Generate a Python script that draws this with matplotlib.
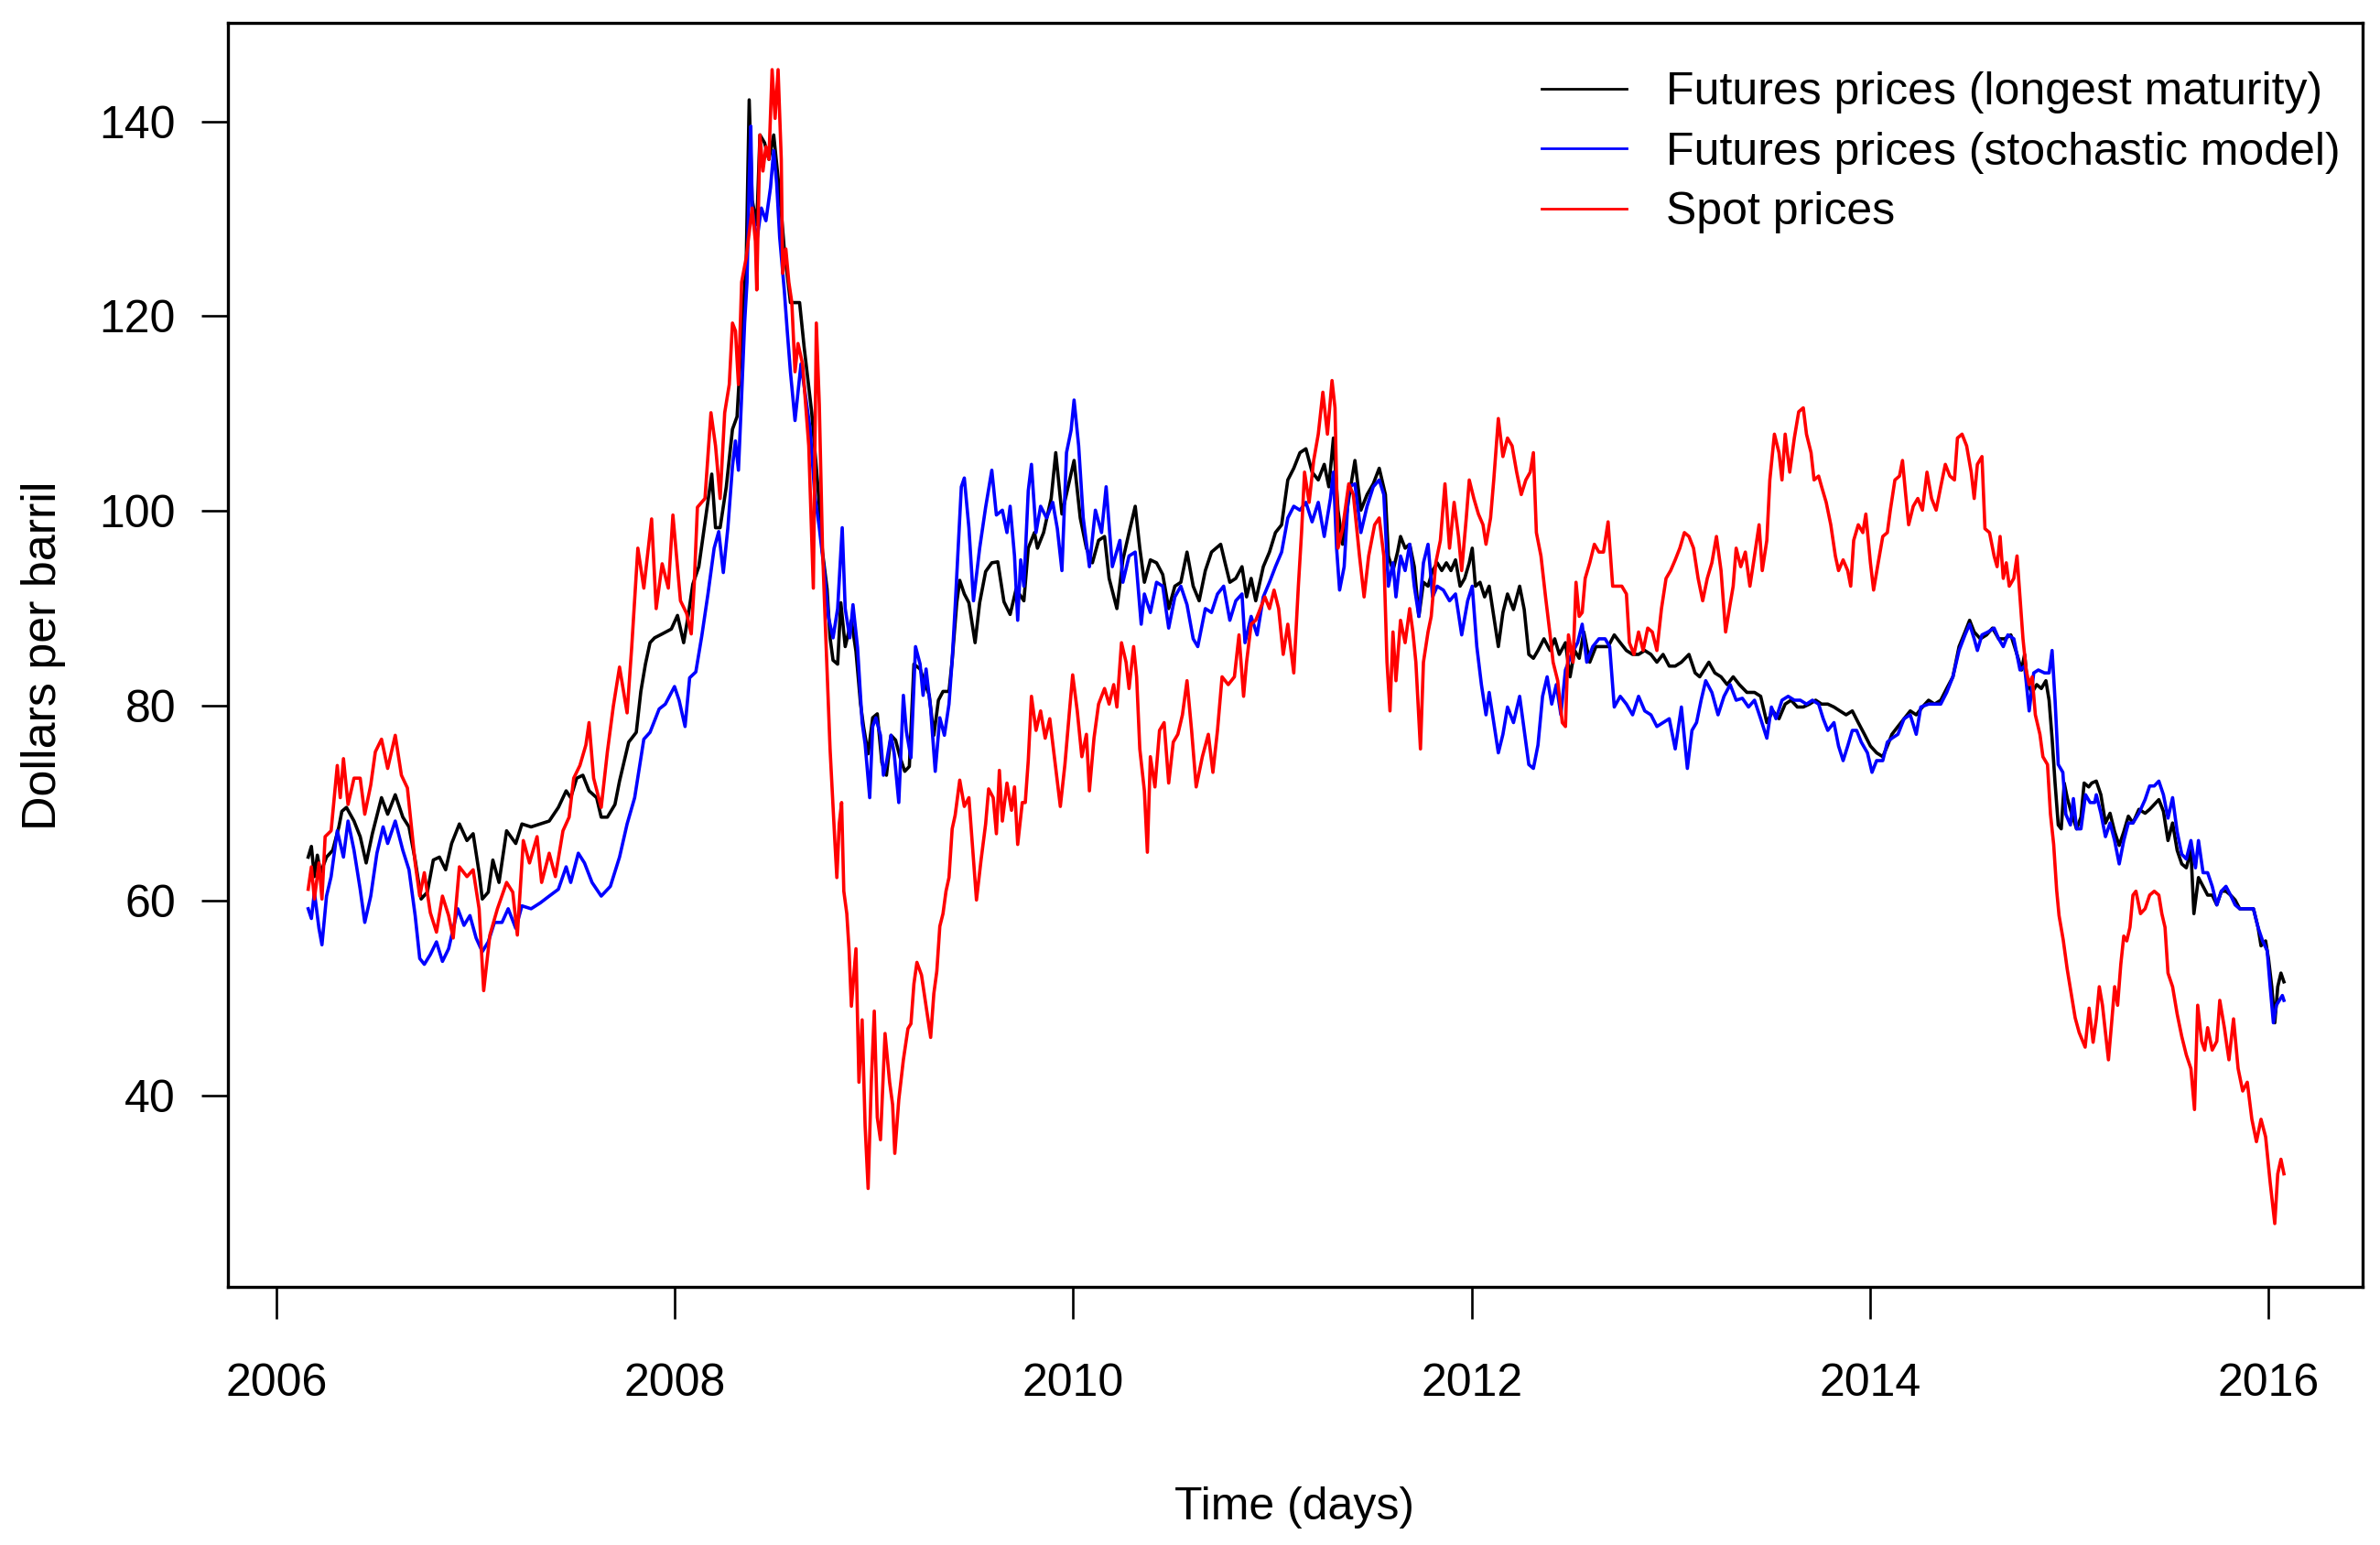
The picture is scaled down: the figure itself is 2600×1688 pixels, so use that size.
import matplotlib
matplotlib.use("Agg")
import matplotlib.pyplot as plt
from matplotlib import font_manager

# ---------------- data ----------------
futures_longest = [
(2006.159,64.5),(2006.175,65.6),(2006.190,62.5),(2006.205,64.7),(2006.221,62.9),(2006.251,64.5),(2006.282,65.2),
(2006.313,67.6),(2006.328,69.2),(2006.351,69.6),(2006.389,68.2),(2006.420,66.6),(2006.450,63.9),(2006.481,66.9),
(2006.527,70.6),(2006.558,68.9),(2006.596,70.9),(2006.634,68.6),(2006.665,67.6),(2006.696,64.2),(2006.726,60.2),
(2006.757,60.9),(2006.787,64.2),(2006.818,64.5),(2006.849,63.2),(2006.879,65.9),(2006.918,67.9),(2006.956,66.2),
(2006.987,66.9),(2007.017,62.9),(2007.033,60.2),(2007.063,60.9),(2007.086,64.2),(2007.117,61.9),(2007.155,67.2),
(2007.201,65.9),(2007.232,67.9),(2007.278,67.6),(2007.324,67.9),(2007.369,68.2),(2007.415,69.6),(2007.454,71.3),
(2007.477,70.6),(2007.507,72.6),(2007.538,72.9),(2007.569,71.3),(2007.607,70.6),(2007.630,68.6),(2007.661,68.6),
(2007.699,69.9),(2007.722,72.3),(2007.768,76.3),(2007.806,77.3),(2007.829,81.5),(2007.852,84.3),(2007.875,86.5),
(2007.898,87.0),(2007.936,87.4),(2007.982,87.9),(2008.013,89.3),(2008.044,86.5),(2008.067,89.3),(2008.090,92.5),
(2008.120,94.3),(2008.151,98.8),(2008.185,103.8),(2008.204,98.3),(2008.227,98.3),(2008.258,102.5),(2008.289,108.4),
(2008.312,109.7),(2008.327,115.1),(2008.342,120.6),(2008.358,125.6),(2008.365,133.2),(2008.373,142.2),(2008.388,131.9),
(2008.411,129.4),(2008.427,138.6),(2008.450,137.8),(2008.472,136.1),(2008.496,138.6),(2008.519,134.0),(2008.534,130.7),
(2008.549,126.9),(2008.580,121.4),(2008.626,121.4),(2008.649,116.8),(2008.687,110.1),(2008.718,102.5),(2008.741,95.8),
(2008.764,92.0),(2008.779,87.0),(2008.794,84.7),(2008.817,84.3),(2008.833,90.6),(2008.855,86.1),(2008.886,88.8),
(2008.909,85.6),(2008.932,80.2),(2008.947,77.9),(2008.970,75.1),(2008.993,78.8),(2009.016,79.2),(2009.039,74.2),
(2009.062,72.9),(2009.085,77.0),(2009.108,76.5),(2009.131,74.7),(2009.154,73.3),(2009.177,73.8),(2009.200,84.3),
(2009.231,83.8),(2009.254,82.4),(2009.277,81.1),(2009.300,77.0),(2009.323,80.6),(2009.346,81.5),(2009.376,81.5),
(2009.392,84.7),(2009.415,90.6),(2009.430,92.9),(2009.453,91.5),(2009.476,90.6),(2009.507,86.5),(2009.530,90.6),
(2009.560,93.8),(2009.591,94.7),(2009.621,94.8),(2009.652,90.7),(2009.683,89.4),(2009.713,92.0),(2009.752,90.8),
(2009.774,96.2),(2009.805,97.8),(2009.820,96.2),(2009.851,97.8),(2009.889,101.3),(2009.912,106.0),(2009.943,99.7),
(2009.974,102.5),(2010.004,105.2),(2010.035,99.3),(2010.066,96.2),(2010.096,94.7),(2010.127,97.0),(2010.157,97.4),
(2010.180,93.1),(2010.219,90.0),(2010.249,95.0),(2010.280,97.8),(2010.311,100.5),(2010.334,96.2),(2010.357,92.7),
(2010.387,95.0),(2010.418,94.7),(2010.449,93.5),(2010.479,90.0),(2010.510,92.3),(2010.540,92.7),(2010.571,95.8),
(2010.602,92.3),(2010.632,90.8),(2010.663,93.9),(2010.694,95.8),(2010.740,96.6),(2010.762,94.7),(2010.786,92.7),
(2010.816,93.1),(2010.847,94.3),(2010.870,91.2),(2010.893,93.1),(2010.916,90.8),(2010.954,94.3),(2010.985,95.8),
(2011.015,97.8),(2011.046,98.6),(2011.077,103.2),(2011.107,104.4),(2011.138,106.0),(2011.168,106.4),(2011.199,104.0),
(2011.230,103.2),(2011.260,104.8),(2011.283,102.5),(2011.306,107.5),(2011.329,100.1),(2011.352,96.6),(2011.383,101.3),
(2011.414,105.2),(2011.444,100.1),(2011.475,101.7),(2011.506,102.8),(2011.536,104.4),(2011.567,101.7),(2011.582,95.4),
(2011.605,93.9),(2011.628,95.8),(2011.643,97.4),(2011.666,96.2),(2011.689,96.6),(2011.712,94.3),(2011.735,89.2),
(2011.758,92.7),(2011.781,92.3),(2011.804,93.9),(2011.827,94.7),(2011.850,93.9),(2011.873,94.7),(2011.896,93.9),
(2011.919,95.0),(2011.942,92.3),(2011.965,93.1),(2011.988,94.7),(2012.003,96.2),(2012.019,92.3),(2012.042,92.7),
(2012.065,91.2),(2012.088,92.3),(2012.111,89.2),(2012.134,86.1),(2012.157,89.6),(2012.180,91.5),(2012.210,89.9),
(2012.241,92.3),(2012.264,89.9),(2012.287,85.3),(2012.310,84.9),(2012.333,85.7),(2012.363,86.9),(2012.394,85.7),
(2012.417,86.9),(2012.440,85.3),(2012.471,86.5),(2012.494,83.0),(2012.517,85.7),(2012.540,84.9),(2012.563,87.6),
(2012.593,84.5),(2012.624,86.1),(2012.654,86.1),(2012.685,86.1),(2012.716,87.3),(2012.746,86.5),(2012.777,85.7),
(2012.808,85.3),(2012.838,85.3),(2012.869,85.7),(2012.900,85.3),(2012.930,84.5),(2012.961,85.3),(2012.992,84.1),
(2013.022,84.1),(2013.053,84.5),(2013.091,85.3),(2013.122,83.4),(2013.145,83.0),(2013.191,84.5),(2013.221,83.4),
(2013.252,83.0),(2013.283,82.2),(2013.313,83.0),(2013.344,82.2),(2013.382,81.4),(2013.420,81.4),(2013.451,81.0),
(2013.482,78.3),(2013.512,79.5),(2013.543,78.7),(2013.574,80.2),(2013.604,80.6),(2013.635,79.9),(2013.665,79.9),
(2013.696,80.2),(2013.727,80.6),(2013.757,80.2),(2013.788,80.2),(2013.819,79.9),(2013.849,79.5),(2013.880,79.1),
(2013.911,79.5),(2013.941,78.3),(2013.972,77.1),(2014.002,75.9),(2014.033,75.2),(2014.064,74.8),(2014.087,75.9),
(2014.110,77.1),(2014.140,77.9),(2014.171,78.7),(2014.202,79.5),(2014.232,79.1),(2014.263,79.9),(2014.294,80.6),
(2014.324,80.2),(2014.355,80.6),(2014.385,81.8),(2014.416,83.0),(2014.447,86.1),(2014.477,87.6),(2014.500,88.8),
(2014.523,87.6),(2014.554,86.9),(2014.585,87.3),(2014.615,88.0),(2014.646,86.9),(2014.676,86.9),(2014.707,87.3),
(2014.738,85.3),(2014.761,83.7),(2014.776,85.3),(2014.791,82.2),(2014.814,81.4),(2014.837,82.2),(2014.860,81.8),
(2014.883,82.6),(2014.899,80.6),(2014.914,76.7),(2014.929,72.1),(2014.945,67.8),(2014.960,67.4),(2014.975,72.1),
(2014.991,70.5),(2015.013,68.9),(2015.037,67.4),(2015.059,68.6),(2015.075,72.1),(2015.098,71.7),(2015.113,72.1),
(2015.136,72.3),(2015.159,70.9),(2015.182,68.0),(2015.205,69.0),(2015.228,67.1),(2015.251,65.7),(2015.274,67.1),
(2015.297,68.7),(2015.320,68.0),(2015.350,69.4),(2015.381,69.0),(2015.404,69.4),(2015.427,69.9),(2015.450,70.4),
(2015.473,69.2),(2015.496,66.2),(2015.519,68.0),(2015.542,65.2),(2015.565,63.8),(2015.588,63.4),(2015.611,65.2),
(2015.626,58.7),(2015.649,62.4),(2015.672,61.5),(2015.695,60.6),(2015.718,60.6),(2015.741,59.6),(2015.764,61.0),
(2015.787,61.0),(2015.810,60.6),(2015.833,60.1),(2015.856,59.2),(2015.879,59.2),(2015.902,59.2),(2015.925,59.2),
(2015.948,57.3),(2015.963,55.4),(2015.986,55.9),(2016.001,54.0),(2016.017,51.2),(2016.032,47.5),(2016.047,51.2),
(2016.063,52.6),(2016.078,51.7),
]

futures_model = [
(2006.159,59.2),(2006.175,58.2),(2006.190,60.9),(2006.213,57.2),(2006.228,55.5),(2006.251,60.5),(2006.274,62.5),
(2006.305,67.2),(2006.336,64.5),(2006.359,68.2),(2006.389,65.2),(2006.420,61.2),(2006.443,57.8),(2006.473,60.5),
(2006.504,64.9),(2006.535,67.6),(2006.558,65.9),(2006.596,68.2),(2006.634,65.2),(2006.665,63.2),(2006.696,58.5),
(2006.719,54.1),(2006.742,53.5),(2006.772,54.5),(2006.803,55.8),(2006.833,53.8),(2006.864,55.1),(2006.910,59.2),
(2006.941,57.5),(2006.971,58.5),(2007.002,56.2),(2007.033,54.8),(2007.063,55.8),(2007.094,57.8),(2007.132,57.8),
(2007.163,59.2),(2007.201,57.2),(2007.232,59.5),(2007.278,59.2),(2007.324,59.8),(2007.369,60.5),(2007.415,61.2),
(2007.454,63.5),(2007.477,61.9),(2007.515,64.9),(2007.546,63.9),(2007.584,61.9),(2007.630,60.5),(2007.676,61.5),
(2007.722,64.5),(2007.760,67.9),(2007.798,70.6),(2007.844,76.6),(2007.875,77.3),(2007.921,79.7),(2007.952,80.2),
(2007.998,82.0),(2008.021,80.6),(2008.051,77.9),(2008.074,82.9),(2008.105,83.5),(2008.135,87.2),(2008.166,91.5),
(2008.197,96.2),(2008.220,97.9),(2008.243,93.7),(2008.266,98.3),(2008.289,104.6),(2008.304,107.2),(2008.319,104.2),
(2008.335,111.8),(2008.350,119.3),(2008.362,123.5),(2008.373,134.0),(2008.381,139.5),(2008.388,131.1),(2008.411,127.7),
(2008.434,131.1),(2008.457,129.8),(2008.480,133.2),(2008.496,137.0),(2008.511,133.6),(2008.526,128.1),(2008.549,122.7),
(2008.564,118.5),(2008.580,114.3),(2008.603,109.3),(2008.618,112.2),(2008.633,115.1),(2008.656,111.8),(2008.679,108.4),
(2008.702,101.7),(2008.725,98.3),(2008.748,94.2),(2008.771,89.1),(2008.794,87.0),(2008.817,90.0),(2008.840,98.3),
(2008.855,90.0),(2008.878,87.0),(2008.894,90.4),(2008.917,86.0),(2008.940,78.3),(2008.955,76.1),(2008.978,70.6),
(2008.993,77.9),(2009.009,78.8),(2009.032,77.0),(2009.047,72.9),(2009.062,74.2),(2009.085,77.0),(2009.101,75.1),
(2009.124,70.1),(2009.147,81.1),(2009.162,77.4),(2009.185,74.7),(2009.208,86.1),(2009.231,84.3),(2009.246,81.1),
(2009.261,83.8),(2009.284,79.7),(2009.307,73.3),(2009.330,78.8),(2009.353,77.0),(2009.376,80.2),(2009.392,84.7),
(2009.407,90.2),(2009.438,102.5),(2009.453,103.4),(2009.476,98.3),(2009.499,90.8),(2009.530,96.2),(2009.560,100.4),
(2009.591,104.2),(2009.614,99.6),(2009.644,100.1),(2009.667,97.8),(2009.683,100.5),(2009.705,95.4),(2009.721,88.8),
(2009.736,95.0),(2009.752,92.3),(2009.774,102.1),(2009.790,104.8),(2009.813,97.8),(2009.836,100.5),(2009.866,99.3),
(2009.897,100.9),(2009.920,98.2),(2009.943,93.9),(2009.966,106.0),(2009.989,108.3),(2010.004,111.4),(2010.027,106.7),
(2010.050,99.3),(2010.081,94.3),(2010.111,100.1),(2010.142,97.8),(2010.165,102.5),(2010.196,94.3),(2010.234,97.0),
(2010.249,92.7),(2010.280,95.4),(2010.311,95.8),(2010.341,88.4),(2010.357,91.5),(2010.387,89.6),(2010.418,92.7),
(2010.449,92.3),(2010.479,88.0),(2010.510,91.2),(2010.540,92.3),(2010.571,90.4),(2010.602,86.9),(2010.625,86.1),
(2010.663,90.0),(2010.694,89.6),(2010.724,91.5),(2010.755,92.3),(2010.786,88.8),(2010.816,90.8),(2010.847,91.5),
(2010.862,86.5),(2010.893,89.2),(2010.923,87.3),(2010.954,91.2),(2010.985,92.7),(2011.015,94.3),(2011.046,95.8),
(2011.077,99.3),(2011.107,100.5),(2011.138,100.1),(2011.168,100.9),(2011.199,98.9),(2011.230,100.9),(2011.260,97.4),
(2011.291,101.3),(2011.306,104.0),(2011.322,96.2),(2011.337,91.9),(2011.360,94.3),(2011.383,102.5),(2011.414,102.8),
(2011.444,97.8),(2011.475,100.5),(2011.506,102.5),(2011.536,103.2),(2011.559,101.7),(2011.582,92.3),(2011.605,94.7),
(2011.620,91.2),(2011.643,95.4),(2011.666,93.9),(2011.689,96.6),(2011.712,92.3),(2011.735,89.2),(2011.758,94.7),
(2011.781,96.6),(2011.804,91.2),(2011.827,92.3),(2011.858,91.9),(2011.889,90.8),(2011.919,91.5),(2011.950,87.3),
(2011.980,90.8),(2012.003,92.3),(2012.026,86.1),(2012.049,82.2),(2012.072,79.1),(2012.088,81.4),(2012.111,78.3),
(2012.134,75.2),(2012.157,77.1),(2012.180,79.9),(2012.210,78.3),(2012.241,81.0),(2012.264,77.5),(2012.287,74.0),
(2012.310,73.6),(2012.333,76.0),(2012.356,81.0),(2012.379,83.0),(2012.402,80.2),(2012.425,82.2),(2012.448,79.1),
(2012.471,83.7),(2012.501,85.3),(2012.532,86.5),(2012.555,88.4),(2012.578,84.5),(2012.608,86.1),(2012.639,86.9),
(2012.670,86.9),(2012.693,86.1),(2012.716,79.9),(2012.746,81.0),(2012.777,80.2),(2012.808,79.1),(2012.838,81.0),
(2012.869,79.5),(2012.900,79.1),(2012.930,77.9),(2012.961,78.3),(2012.992,78.7),(2013.022,75.6),(2013.053,79.9),
(2013.083,73.6),(2013.106,77.5),(2013.129,78.3),(2013.152,80.6),(2013.175,82.6),(2013.206,81.4),(2013.237,79.1),
(2013.267,81.0),(2013.298,82.2),(2013.328,80.6),(2013.359,80.8),(2013.390,79.9),(2013.420,80.6),(2013.451,78.7),
(2013.482,76.7),(2013.505,79.9),(2013.528,78.7),(2013.558,80.6),(2013.589,81.0),(2013.620,80.6),(2013.650,80.6),
(2013.681,80.2),(2013.711,80.6),(2013.742,80.2),(2013.765,78.7),(2013.788,77.5),(2013.819,78.3),(2013.842,75.9),
(2013.865,74.4),(2013.888,75.9),(2013.911,77.5),(2013.933,77.5),(2013.956,76.3),(2013.987,75.2),(2014.010,73.2),
(2014.033,74.4),(2014.064,74.4),(2014.087,76.3),(2014.110,76.7),(2014.140,77.1),(2014.171,78.7),(2014.202,79.1),
(2014.232,77.1),(2014.255,79.9),(2014.294,80.2),(2014.324,80.2),(2014.355,80.2),(2014.385,81.4),(2014.416,83.0),
(2014.447,85.7),(2014.477,87.3),(2014.500,88.4),(2014.523,86.9),(2014.539,85.7),(2014.562,87.3),(2014.592,87.6),
(2014.623,88.0),(2014.646,86.9),(2014.669,86.1),(2014.692,87.3),(2014.722,86.9),(2014.753,83.7),(2014.776,84.1),
(2014.799,79.5),(2014.822,83.4),(2014.845,83.7),(2014.876,83.4),(2014.899,83.4),(2014.914,85.7),(2014.929,80.6),
(2014.945,74.0),(2014.968,73.2),(2014.983,68.9),(2015.006,67.8),(2015.021,70.5),(2015.037,67.4),(2015.059,67.4),
(2015.082,70.9),(2015.105,70.1),(2015.128,70.1),(2015.136,70.9),(2015.159,69.0),(2015.182,66.6),(2015.205,68.0),
(2015.228,66.2),(2015.251,63.8),(2015.274,66.2),(2015.297,68.0),(2015.320,68.0),(2015.350,69.0),(2015.381,70.4),
(2015.404,71.8),(2015.427,71.8),(2015.450,72.3),(2015.473,70.9),(2015.496,68.5),(2015.519,70.6),(2015.542,67.1),
(2015.565,64.8),(2015.588,64.3),(2015.611,66.2),(2015.634,63.4),(2015.649,66.2),(2015.672,62.9),(2015.695,62.9),
(2015.718,61.5),(2015.741,59.6),(2015.764,61.0),(2015.787,61.5),(2015.810,60.6),(2015.833,59.6),(2015.856,59.2),
(2015.879,59.2),(2015.902,59.2),(2015.925,59.2),(2015.948,57.3),(2015.971,55.9),(2015.994,54.9),(2016.009,51.2),
(2016.025,47.5),(2016.040,49.3),(2016.055,49.8),(2016.070,50.3),(2016.078,49.8),
]

spot = [
(2006.159,61.2),(2006.175,63.5),(2006.190,60.2),(2006.213,63.9),(2006.228,60.2),(2006.244,66.6),(2006.274,67.2),
(2006.305,73.9),(2006.320,70.6),(2006.336,74.6),(2006.359,69.9),(2006.389,72.6),(2006.420,72.6),(2006.443,68.9),
(2006.473,71.9),(2006.496,75.3),(2006.527,76.6),(2006.558,73.6),(2006.596,77.0),(2006.627,72.9),(2006.657,71.6),
(2006.696,63.9),(2006.719,60.5),(2006.742,62.9),(2006.772,58.8),(2006.803,56.8),(2006.833,60.5),(2006.864,58.5),
(2006.887,56.2),(2006.918,63.5),(2006.956,62.5),(2006.987,63.2),(2007.017,59.2),(2007.040,50.8),(2007.071,56.5),
(2007.109,59.2),(2007.155,61.9),(2007.186,60.9),(2007.209,56.5),(2007.239,66.2),(2007.270,63.9),(2007.308,66.6),
(2007.331,61.9),(2007.369,64.9),(2007.400,62.5),(2007.438,67.2),(2007.469,68.6),(2007.492,72.6),(2007.523,73.9),
(2007.553,76.0),(2007.569,78.3),(2007.592,72.6),(2007.630,69.6),(2007.661,75.3),(2007.691,80.0),(2007.722,84.0),
(2007.760,79.3),(2007.783,86.0),(2007.814,96.2),(2007.844,92.1),(2007.883,99.2),(2007.906,90.0),(2007.936,94.6),
(2007.967,92.1),(2007.990,99.6),(2008.028,90.8),(2008.059,89.5),(2008.082,87.4),(2008.097,92.5),(2008.113,100.4),
(2008.151,101.3),(2008.181,110.1),(2008.204,106.7),(2008.227,101.3),(2008.250,110.1),(2008.273,113.0),(2008.289,119.3),
(2008.304,118.5),(2008.319,113.0),(2008.335,123.5),(2008.358,126.0),(2008.373,128.6),(2008.388,131.1),(2008.404,127.7),
(2008.411,122.7),(2008.427,138.6),(2008.442,134.9),(2008.457,137.4),(2008.472,136.1),(2008.488,145.3),(2008.503,140.3),
(2008.518,145.3),(2008.534,136.1),(2008.541,124.4),(2008.557,126.9),(2008.572,123.5),(2008.587,121.4),(2008.603,114.3),
(2008.618,117.2),(2008.641,115.1),(2008.672,106.7),(2008.695,92.1),(2008.710,119.3),(2008.725,110.9),(2008.741,96.2),
(2008.756,87.9),(2008.779,75.6),(2008.802,66.5),(2008.813,62.4),(2008.825,67.9),(2008.837,70.1),(2008.848,61.0),
(2008.863,58.7),(2008.874,55.1),(2008.886,49.2),(2008.909,55.1),(2008.924,41.4),(2008.940,47.8),(2008.955,36.9),
(2008.970,30.5),(2008.986,41.4),(2009.001,48.7),(2009.016,37.8),(2009.032,35.5),(2009.055,46.4),(2009.078,41.4),
(2009.093,39.1),(2009.104,34.1),(2009.124,39.6),(2009.147,43.7),(2009.170,46.9),(2009.185,47.4),(2009.200,51.5),
(2009.215,53.7),(2009.238,52.4),(2009.261,49.2),(2009.284,46.0),(2009.300,50.5),(2009.315,52.8),(2009.330,57.4),
(2009.346,58.7),(2009.361,61.0),(2009.376,62.4),(2009.392,67.4),(2009.407,68.8),(2009.430,72.4),(2009.453,69.7),
(2009.476,70.6),(2009.491,66.5),(2009.514,60.1),(2009.537,64.2),(2009.560,67.9),(2009.575,71.5),(2009.598,70.6),
(2009.614,66.9),(2009.629,73.4),(2009.644,68.2),(2009.667,72.1),(2009.690,69.3),(2009.705,71.7),(2009.721,65.8),
(2009.744,70.1),(2009.759,70.1),(2009.774,74.4),(2009.790,81.0),(2009.813,77.5),(2009.836,79.5),(2009.859,76.7),
(2009.882,78.7),(2009.905,74.8),(2009.935,69.7),(2009.958,74.0),(2009.981,79.5),(2009.997,83.2),(2010.020,79.5),
(2010.043,74.8),(2010.066,77.1),(2010.081,71.3),(2010.104,76.7),(2010.127,80.2),(2010.157,81.8),(2010.180,80.2),
(2010.203,82.2),(2010.219,79.9),(2010.242,86.5),(2010.265,84.5),(2010.280,81.8),(2010.303,86.1),(2010.318,83.0),
(2010.334,75.6),(2010.357,71.3),(2010.372,65.0),(2010.387,74.8),(2010.410,71.7),(2010.433,77.5),(2010.456,78.3),
(2010.479,72.1),(2010.502,76.3),(2010.525,77.1),(2010.548,79.1),(2010.571,82.6),(2010.594,77.5),(2010.617,71.7),
(2010.648,74.8),(2010.678,77.1),(2010.701,73.2),(2010.724,77.5),(2010.747,83.0),(2010.778,82.2),(2010.809,83.0),
(2010.832,87.3),(2010.855,81.0),(2010.870,84.5),(2010.893,88.4),(2010.916,88.8),(2010.939,90.0),(2010.962,91.2),
(2010.985,90.0),(2011.008,91.9),(2011.031,90.0),(2011.054,85.3),(2011.077,88.4),(2011.107,83.4),(2011.130,92.3),
(2011.146,97.8),(2011.161,104.0),(2011.184,100.9),(2011.207,105.2),(2011.230,107.9),(2011.253,112.2),(2011.276,107.9),
(2011.299,113.4),(2011.314,110.6),(2011.329,96.2),(2011.352,98.2),(2011.383,102.8),(2011.406,101.7),(2011.437,95.4),
(2011.460,91.2),(2011.483,95.4),(2011.513,98.6),(2011.536,99.3),(2011.559,95.4),(2011.575,84.5),(2011.590,79.5),
(2011.605,87.6),(2011.620,82.6),(2011.643,88.8),(2011.666,86.5),(2011.689,90.0),(2011.705,87.6),(2011.720,84.5),
(2011.735,78.7),(2011.743,75.6),(2011.758,84.5),(2011.781,87.6),(2011.797,89.2),(2011.820,94.7),(2011.843,97.0),
(2011.866,102.8),(2011.889,96.2),(2011.912,100.9),(2011.934,97.4),(2011.950,93.9),(2011.973,99.3),(2011.988,103.2),
(2012.011,101.3),(2012.034,99.7),(2012.057,98.6),(2012.072,96.6),(2012.095,99.3),(2012.111,103.2),(2012.134,109.5),
(2012.157,105.6),(2012.180,107.5),(2012.203,106.7),(2012.226,104.0),(2012.249,101.7),(2012.272,103.2),(2012.294,104.0),
(2012.310,106.0),(2012.325,97.8),(2012.348,95.4),(2012.371,91.2),(2012.394,87.3),(2012.409,84.5),(2012.432,82.6),
(2012.455,78.3),(2012.471,77.9),(2012.486,87.3),(2012.509,84.5),(2012.524,92.7),(2012.540,89.2),(2012.555,89.6),
(2012.570,93.1),(2012.593,94.7),(2012.616,96.6),(2012.639,95.8),(2012.662,95.8),(2012.685,98.9),(2012.708,92.3),
(2012.731,92.3),(2012.754,92.3),(2012.777,91.5),(2012.792,86.5),(2012.815,85.3),(2012.838,87.6),(2012.861,85.7),
(2012.884,88.0),(2012.907,87.6),(2012.930,85.7),(2012.953,90.0),(2012.976,93.1),(2012.999,93.9),(2013.022,95.0),
(2013.045,96.2),(2013.068,97.8),(2013.091,97.4),(2013.114,96.2),(2013.137,93.1),(2013.160,90.8),(2013.183,93.1),
(2013.206,94.7),(2013.229,97.4),(2013.252,93.9),(2013.275,87.6),(2013.298,90.5),(2013.313,92.3),(2013.328,96.2),
(2013.351,94.3),(2013.374,95.8),(2013.397,92.3),(2013.420,95.4),(2013.443,98.6),(2013.459,93.9),(2013.482,97.0),
(2013.497,103.2),(2013.520,107.9),(2013.543,106.0),(2013.558,103.2),(2013.574,107.9),(2013.597,104.0),(2013.620,107.5),
(2013.642,110.2),(2013.665,110.6),(2013.681,107.9),(2013.704,106.0),(2013.719,103.2),(2013.742,103.6),(2013.757,102.5),
(2013.780,100.9),(2013.803,98.6),(2013.826,95.4),(2013.842,93.9),(2013.865,95.0),(2013.888,93.9),(2013.903,92.3),
(2013.918,97.0),(2013.941,98.6),(2013.964,97.8),(2013.979,99.7),(2014.002,94.7),(2014.018,91.9),(2014.041,94.7),
(2014.064,97.4),(2014.087,97.8),(2014.102,100.1),(2014.125,103.2),(2014.148,103.6),(2014.163,105.2),(2014.179,101.7),
(2014.194,98.6),(2014.217,100.5),(2014.240,101.3),(2014.263,100.1),(2014.286,104.0),(2014.309,101.3),(2014.332,100.1),
(2014.355,102.5),(2014.378,104.8),(2014.401,103.6),(2014.424,103.2),(2014.439,107.5),(2014.462,107.9),(2014.485,106.7),
(2014.508,104.0),(2014.523,101.3),(2014.539,104.8),(2014.562,105.6),(2014.577,98.2),(2014.600,97.8),(2014.623,95.4),
(2014.638,94.3),(2014.653,97.4),(2014.669,93.1),(2014.684,94.7),(2014.699,92.3),(2014.722,93.1),(2014.738,95.4),
(2014.753,91.2),(2014.768,86.9),(2014.784,83.7),(2014.799,82.2),(2014.814,83.0),(2014.830,79.1),(2014.853,77.1),
(2014.868,74.8),(2014.891,74.0),(2014.906,68.9),(2014.922,65.8),(2014.937,61.1),(2014.949,58.5),(2014.970,56.0),
(2014.990,53.0),(2015.010,50.5),(2015.030,48.0),(2015.050,46.5),(2015.080,45.0),(2015.100,49.0),(2015.120,45.5),
(2015.136,47.9),(2015.151,51.2),(2015.167,49.3),(2015.182,46.5),(2015.197,43.7),(2015.213,47.5),(2015.228,51.2),
(2015.243,49.3),(2015.259,53.5),(2015.274,56.4),(2015.289,55.9),(2015.305,57.3),(2015.320,60.6),(2015.335,61.0),
(2015.358,58.7),(2015.381,59.2),(2015.404,60.6),(2015.427,61.0),(2015.450,60.6),(2015.465,58.7),(2015.481,57.3),
(2015.496,52.6),(2015.519,51.2),(2015.542,48.4),(2015.565,46.1),(2015.588,44.2),(2015.611,42.8),(2015.629,38.6),
(2015.645,49.3),(2015.665,45.6),(2015.680,44.7),(2015.695,47.0),(2015.718,44.7),(2015.741,45.6),(2015.756,49.8),
(2015.779,47.0),(2015.802,43.7),(2015.825,47.9),(2015.848,42.8),(2015.871,40.5),(2015.894,41.4),(2015.917,37.6),
(2015.940,35.3),(2015.963,37.6),(2015.986,35.8),(2016.009,31.1),(2016.032,26.9),(2016.047,32.0),(2016.063,33.5),
(2016.078,32.0),
]

series_labels = ["Futures prices (longest maturity)",
                 "Futures prices (stochastic model)",
                 "Spot prices"]
series_colors = ["black", "blue", "red"]
x_ticks = [2006, 2008, 2010, 2012, 2014, 2016]
y_ticks = [40, 60, 80, 100, 120, 140]
x_title = "Time (days)"
y_title = "Dollars per barril"

# ---------------- fonts ----------------
available = {f.name for f in font_manager.fontManager.ttflist}
if "Liberation Sans Narrow" in available:
    FAMILY = ["Liberation Sans Narrow", "DejaVu Sans"]
    FS = 41
else:
    FAMILY = ["Liberation Sans", "DejaVu Sans"]
    FS = 36
plt.rcParams["font.family"] = FAMILY
em_px = FS * 100 / 72.0

# ---------------- figure ----------------
W, H = 2600, 1688
fig = plt.figure(figsize=(W / 100, H / 100), dpi=100)
fig.patch.set_facecolor("white")
ax = fig.add_axes([249 / W, 1 - 1406 / H, (2581 - 249) / W, (1406 - 25) / H])

LW = 2.6
for pts, col, lab in zip([futures_longest, futures_model, spot], series_colors, series_labels):
    t, v = zip(*pts)
    ax.plot(t, v, color=col, lw=LW, label=lab, solid_joinstyle="round")

ax.set_xlim(2005.756, 2016.473)
ax.set_ylim(20.4, 150.1)
ax.set_xticks(x_ticks)
ax.set_xticklabels([str(x) for x in x_ticks])
ax.set_yticks(y_ticks)
ax.set_yticklabels([str(y) for y in y_ticks])

for s in ax.spines.values():
    s.set_linewidth(2.4)
ax.tick_params(axis="x", length=25, width=1.9, pad=35, labelsize=FS, direction="out")
ax.tick_params(axis="y", length=21, width=1.9, pad=20, labelsize=FS, direction="out")

fig.text(1414 / W, 1 - 1660 / H, x_title, ha="center", va="baseline", fontsize=FS)
fig.text(61 / W, 1 - 716 / H, y_title, ha="center", va="baseline", rotation=90,
         rotation_mode="anchor", fontsize=FS * 1.04)

leg = ax.legend(loc="upper left", bbox_to_anchor=(1684 / W, 1 - 78 / H),
                bbox_transform=fig.transFigure, frameon=False, fontsize=FS,
                borderpad=0, borderaxespad=0,
                handlelength=93 / em_px, handletextpad=43 / em_px,
                labelspacing=0.39)
for line in leg.get_lines():
    line.set_linewidth(2.0)

fig.savefig("out.png", dpi=100, facecolor="white")
